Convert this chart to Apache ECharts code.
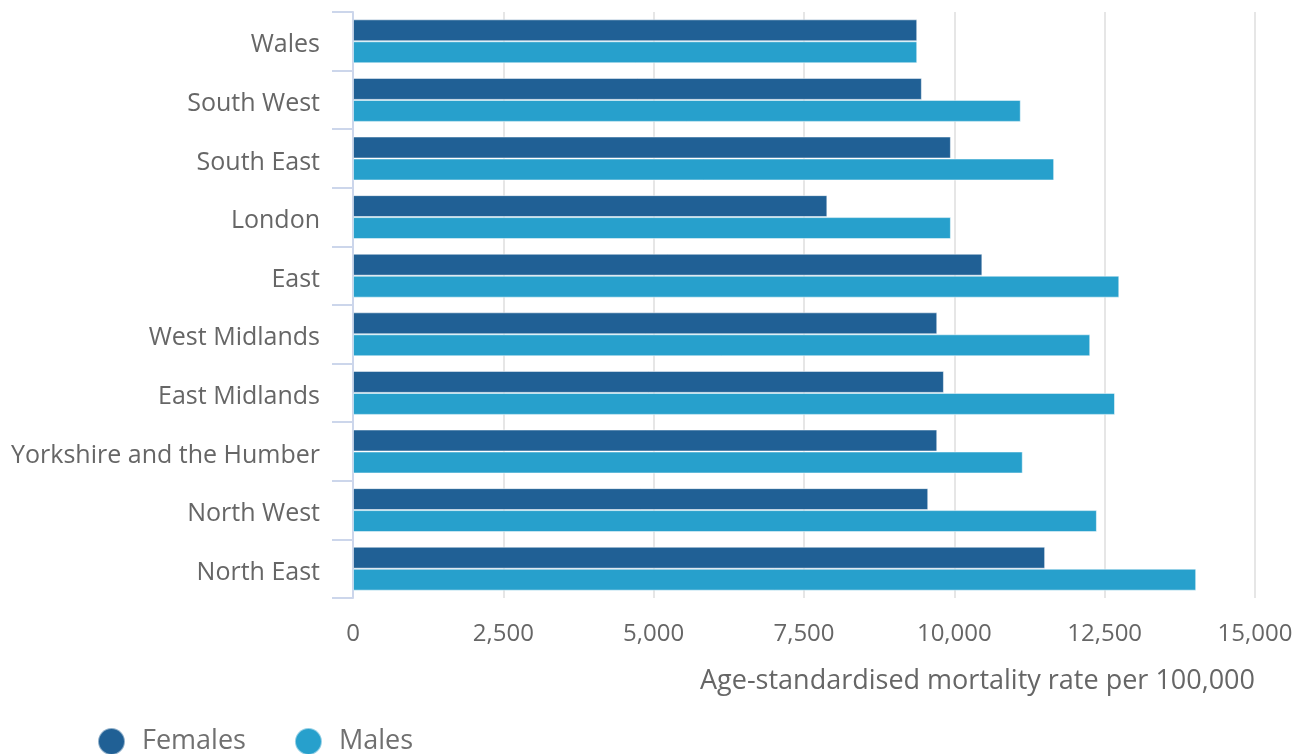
<!DOCTYPE html>
<html>
<head>
<meta charset="utf-8">
<script src="https://cdn.jsdelivr.net/npm/echarts@6/dist/echarts.min.js"></script>
<style>
html,body{margin:0;padding:0;background:#fff;}
#chart{width:1306px;height:754px;}
</style>
</head>
<body>
<div id="chart"></div>
<script>
const regions = ['North East','North West','Yorkshire and the Humber','East Midlands','West Midlands','East','London','South East','South West','Wales'];
const females = [11510, 9566, 9716, 9827, 9716, 10466, 7888, 9943, 9460, 9383];
const males = [14022, 12371, 11138, 12672, 12260, 12743, 9943, 11660, 11105, 9383];
const xTicks = {min: 0, max: 15000, interval: 2500};
const axisTitle = 'Age-standardised mortality rate per 100,000';

const chart = echarts.init(document.getElementById('chart'));
const font = '"Open Sans", "Noto Sans", sans-serif';
chart.setOption({
  animation: false,
  textStyle: {fontFamily: font},
  grid: {left: 353, right: 51, top: 12, bottom: 156},
  legend: {
    data: ['Females','Males'],
    left: 92, top: 722,
    icon: 'circle', itemWidth: 27, itemHeight: 27, itemGap: 48,
    textStyle: {fontSize: 27, color: '#707070', fontFamily: font, padding: [0, 0, 0, 12]}
  },
  xAxis: {
    type: 'value', min: xTicks.min, max: xTicks.max, interval: xTicks.interval,
    axisLine: {show: false}, axisTick: {show: false},
    splitLine: {lineStyle: {color: '#e6e6e6', width: 2}},
    axisLabel: {fontSize: 24, color: '#666666', margin: 24,
      formatter: v => v.toLocaleString('en-GB')},
    name: axisTitle, nameLocation: 'end', nameGap: 0,
    nameTextStyle: {fontSize: 27, color: '#666666', align: 'right', verticalAlign: 'top', padding: [70, 0, 0, 0]}
  },
  yAxis: {
    type: 'category', data: regions,
    axisLine: {show: true, lineStyle: {color: '#ccd6eb', width: 2}},
    axisTick: {show: true, length: 21, lineStyle: {color: '#ccd6eb', width: 2}},
    axisLabel: {fontSize: 25, color: '#666666', margin: 33,
      formatter: v => '{a|' + v + '}',
      rich: {a: {fontSize: 25, color: '#666666', fontFamily: font, padding: [8, 0, 0, 0]}}},
    splitLine: {show: false}
  },
  series: [
    {name: 'Females', type: 'bar', data: females, barGap: '0%', barCategoryGap: '25%',
      itemStyle: {color: '#206095', borderColor: 'rgba(255,255,255,0.5)', borderWidth: 1}},
    {name: 'Males', type: 'bar', data: males, barGap: '0%', barCategoryGap: '25%',
      itemStyle: {color: '#27a0cc', borderColor: 'rgba(255,255,255,0.5)', borderWidth: 1}}
  ]
});
</script>
</body>
</html>
